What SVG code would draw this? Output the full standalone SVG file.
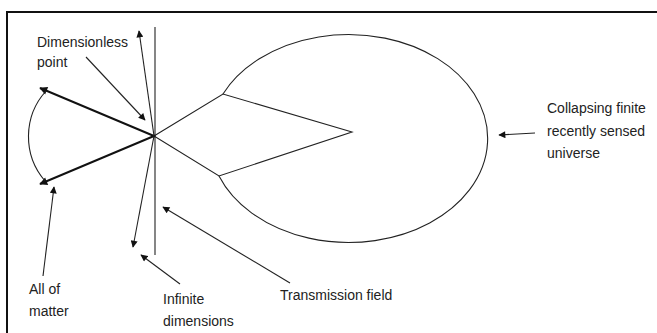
<svg xmlns="http://www.w3.org/2000/svg" width="657" height="333" viewBox="0 0 657 333">
<defs>
<marker id="ah" viewBox="0 0 10 10" refX="9" refY="5" markerWidth="8" markerHeight="7" markerUnits="userSpaceOnUse" orient="auto">
<path d="M0,0 L10,5 L0,10 z" fill="#111"/>
</marker>
<marker id="ahb" viewBox="0 0 10 10" refX="9" refY="5" markerWidth="9" markerHeight="8" markerUnits="userSpaceOnUse" orient="auto">
<path d="M0,0 L10,5 L0,10 z" fill="#111"/>
</marker>
</defs>
<style>
.ln{stroke:#222;stroke-width:1.1;fill:none}
.th{stroke:#111;stroke-width:2;fill:none}
.ar{stroke:#222;stroke-width:1.1;fill:none;marker-end:url(#ah)}
.tx{font-family:"Liberation Sans",Arial,sans-serif;font-size:14px;fill:#222}
</style>
<rect width="657" height="333" fill="#fff"/>
<rect x="7" y="12" width="700" height="400" fill="none" stroke="#111" stroke-width="2"/>

<g id="universe">
<path class="ln" d="M223,94 A139,104 0 1 1 219,176"/>
<path class="ln" d="M154,136 L223,94 L352,132 L219,176 Z"/>
</g>

<g id="transmission-field">
<line class="ln" x1="155" y1="27" x2="155" y2="255"/>
</g>

<g id="dimensionless-point">
<circle cx="154" cy="136" r="1.5" fill="#111"/>
</g>

<g id="matter">
<line class="th" x1="154" y1="136" x2="40" y2="88" style="marker-end:url(#ahb)"/>
<line class="th" x1="154" y1="136" x2="40" y2="184" style="marker-end:url(#ahb)"/>
<path class="ln" d="M46,91 A68,68 0 0 0 45,181"/>
</g>

<g id="connectors">
<line class="ar" x1="154" y1="136" x2="139" y2="31"/>
<line class="ar" x1="154" y1="136" x2="133" y2="247"/>
<line class="ar" x1="86" y1="57" x2="145" y2="120"/>
<line class="ar" x1="43" y1="276" x2="54" y2="187"/>
<line class="ar" x1="180" y1="284" x2="141" y2="255"/>
<line class="ar" x1="290" y1="283" x2="163" y2="207"/>
<line class="ar" x1="535" y1="133" x2="499" y2="135"/>
</g>

<g id="labels">
<text class="tx" x="37" y="47">Dimensionless</text>
<text class="tx" x="37" y="67">point</text>
<text class="tx" x="29" y="294">All of</text>
<text class="tx" x="29" y="316">matter</text>
<text class="tx" x="163" y="304">Infinite</text>
<text class="tx" x="163" y="326">dimensions</text>
<text class="tx" x="280" y="300">Transmission field</text>
<text class="tx" x="547" y="113">Collapsing finite</text>
<text class="tx" x="547" y="136">recently sensed</text>
<text class="tx" x="547" y="158">universe</text>
</g>
</svg>
